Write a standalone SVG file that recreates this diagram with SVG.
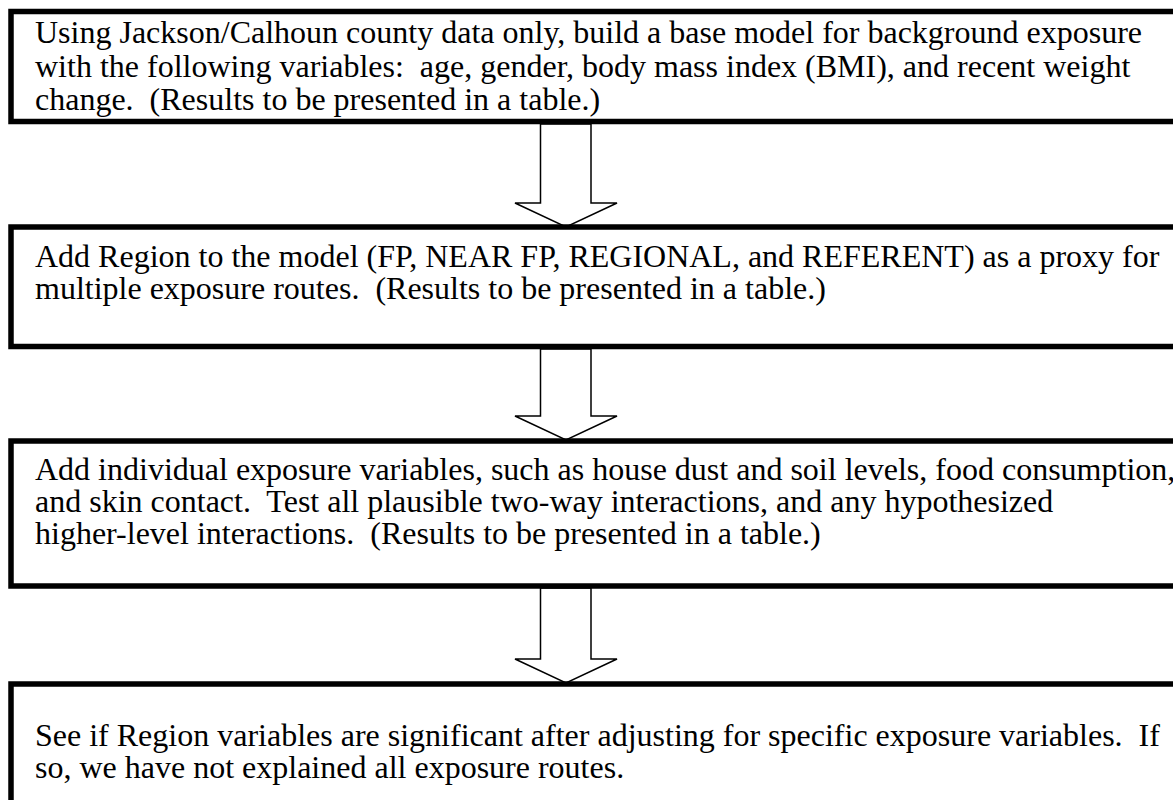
<svg xmlns="http://www.w3.org/2000/svg" width="1173" height="800" viewBox="0 0 1173 800">
<style>
.box{fill:#fff;stroke:#000;stroke-width:5.5}
.arrow{fill:#fff;stroke:#000;stroke-width:1.5;stroke-linejoin:miter}
.t{font-family:"Liberation Serif","Times New Roman",serif;font-size:32px;fill:#000;white-space:pre}
</style>
<rect width="1173" height="800" fill="#fff"/>
<g id="connectors">
<polygon class="arrow" points="540.5,124 540.5,203 515,203 566,227 617,203 591,203 591,124"/>
<polygon class="arrow" points="540.5,349 540.5,416 515,416 566,440 617,416 591,416 591,349"/>
<polygon class="arrow" points="540.5,588 540.5,659 515,659 566,683 617,659 591,659 591,588"/>
</g>
<g id="node1">
<rect class="box" x="11" y="11.5" width="1180" height="110"/>
<text class="t" x="35" y="43" xml:space="preserve">Using Jackson/Calhoun county data only, build a base model for background exposure</text>
<text class="t" x="35" y="77" xml:space="preserve">with the following variables:  age, gender, body mass index (BMI), and recent weight</text>
<text class="t" x="35" y="110" xml:space="preserve">change.  (Results to be presented in a table.)</text>
</g>
<g id="node2">
<rect class="box" x="11" y="227" width="1180" height="119.5"/>
<text class="t" x="35" y="267" xml:space="preserve">Add Region to the model (FP, NEAR FP, REGIONAL, and REFERENT) as a proxy for</text>
<text class="t" x="35" y="299" xml:space="preserve">multiple exposure routes.  (Results to be presented in a table.)</text>
</g>
<g id="node3">
<rect class="box" x="11" y="441" width="1180" height="145"/>
<text class="t" x="35" y="480" xml:space="preserve">Add individual exposure variables, such as house dust and soil levels, food consumption,</text>
<text class="t" x="35" y="512" xml:space="preserve">and skin contact.  Test all plausible two-way interactions, and any hypothesized</text>
<text class="t" x="35" y="544" xml:space="preserve">higher-level interactions.  (Results to be presented in a table.)</text>
</g>
<g id="node4">
<rect class="box" x="11" y="684" width="1180" height="140"/>
<text class="t" x="35" y="746" xml:space="preserve">See if Region variables are significant after adjusting for specific exposure variables.  If</text>
<text class="t" x="35" y="778" xml:space="preserve">so, we have not explained all exposure routes.</text>
</g>
</svg>
